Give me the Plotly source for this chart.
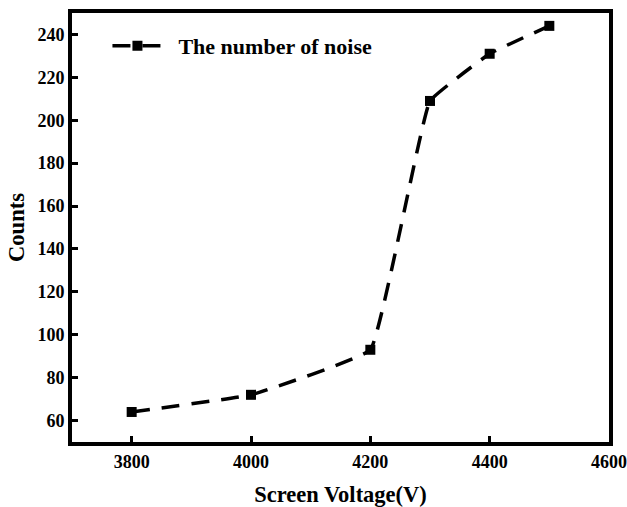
import plotly.graph_objects as go

voltage = [3800, 4000, 4200, 4300, 4400, 4500]
counts = [64, 72, 93, 209, 231, 244]
x_ticks = [3800, 4000, 4200, 4400, 4600]
y_ticks = [60, 80, 100, 120, 140, 160, 180, 200, 220, 240]

font_family = "Liberation Serif"

fig = go.Figure()
fig.add_trace(go.Scatter(
    x=voltage, y=counts, mode="lines+markers",
    name="\u00a0\u00a0<b>The number of noise</b>",
    line=dict(color="black", width=3.5, dash="18px,12px", shape="spline", smoothing=0.25),
    marker=dict(symbol="square", size=10, color="black"),
))

axis_common = dict(
    showline=True, linecolor="black", linewidth=4, mirror=True,
    ticks="inside", ticklen=6, tickwidth=3, tickcolor="black",
    showgrid=False, zeroline=False, automargin=False,
    tickfont=dict(family=font_family, size=18, color="black", weight="bold"),
)

fig.update_layout(
    width=627, height=507,
    paper_bgcolor="white", plot_bgcolor="white",
    margin=dict(l=72, r=18, t=13, b=65),
    font=dict(family=font_family, color="black"),
    showlegend=True,
    legend=dict(x=0.066, y=0.972, xanchor="left", yanchor="top",
                bgcolor="rgba(0,0,0,0)", itemwidth=50,
                font=dict(family=font_family, size=22, color="black")),
    xaxis=dict(range=[3700, 4600], tickvals=x_ticks,
               title=dict(text="<b>Screen Voltage(V)</b>",
                          font=dict(size=22.5, family=font_family, color="black"), standoff=17),
               **axis_common),
    yaxis=dict(range=[50, 250], tickvals=y_ticks,
               title=dict(text="<b>Counts</b>",
                          font=dict(size=22.5, family=font_family, color="black"), standoff=8),
               **axis_common),
)

fig.write_html("out.html", config={"displayModeBar": False},
               post_script="document.body.style.margin='0';document.body.style.padding='0';document.body.style.overflow='hidden';")
